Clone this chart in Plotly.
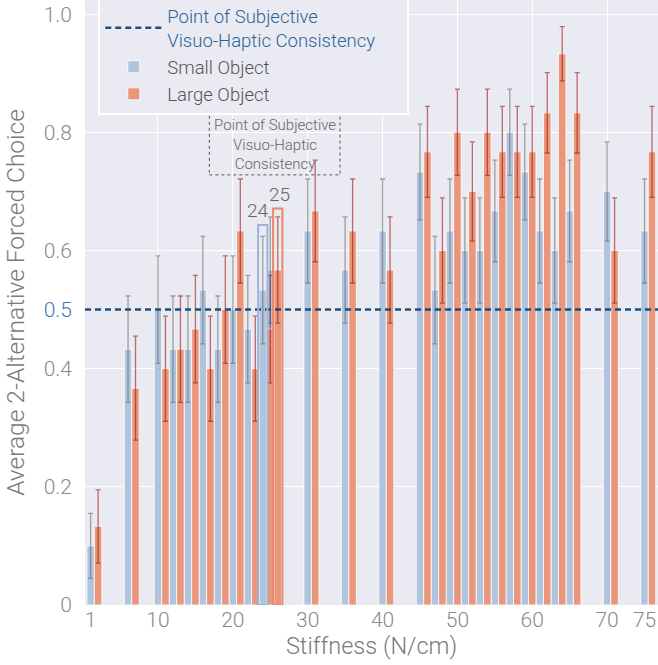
import plotly.graph_objects as go

# ---- data ----
stiffness = [1, 6, 10, 12, 14, 16, 18, 20, 22, 24, 25, 30, 35, 40, 45, 47, 49,
             51, 53, 55, 57, 59, 61, 63, 65, 70, 75]
small_obj = [0.100, 0.433, 0.500, 0.433, 0.433, 0.533, 0.433, 0.500, 0.467, 0.533,
             0.567, 0.633, 0.567, 0.633, 0.733, 0.533, 0.633, 0.600, 0.600, 0.667,
             0.800, 0.733, 0.633, 0.600, 0.667, 0.700, 0.633]
large_obj = [0.133, 0.367, 0.400, 0.433, 0.467, 0.400, 0.500, 0.633, 0.400, 0.467,
             0.567, 0.667, 0.633, 0.567, 0.767, 0.600, 0.800, 0.700, 0.800, 0.767,
             0.767, 0.767, 0.833, 0.933, 0.833, 0.600, 0.767]
small_err = [0.055, 0.090, 0.091, 0.090, 0.090, 0.091, 0.090, 0.091, 0.091, 0.091,
             0.090, 0.088, 0.090, 0.088, 0.081, 0.091, 0.088, 0.089, 0.089, 0.086,
             0.073, 0.081, 0.088, 0.089, 0.086, 0.084, 0.088]
large_err = [0.062, 0.088, 0.089, 0.090, 0.091, 0.089, 0.091, 0.088, 0.089, 0.091,
             0.090, 0.086, 0.088, 0.090, 0.077, 0.089, 0.073, 0.084, 0.073, 0.077,
             0.077, 0.077, 0.068, 0.046, 0.068, 0.089, 0.077]
pse_level = 0.5
pse_small = 24
pse_large = 25
x_ticks = [1, 10, 20, 30, 40, 50, 60, 70, 75]
x_grid = [10, 20, 30, 40, 50, 60, 70]
y_ticks = [0, 0.2, 0.4, 0.6, 0.8, 1.0]
y_ticktext = ["0", "0.2", "0.4", "0.6", "0.8", "1.0"]

FONT = "Roboto, 'Liberation Sans', sans-serif"
BLUE = "#B0C4DE"
ORANGE = "#E9967A"
BG = "#EAEAF2"
PAD = "\u00a0" * 6  # widens the legend box to match the reference

fig = go.Figure()

fig.add_trace(go.Bar(
    x=stiffness, y=small_obj, width=1.0, offset=-0.5,
    name="Small Object", legendrank=2,
    marker=dict(color=BLUE, line=dict(color="rgba(255,255,255,0.8)", width=1)),
    error_y=dict(type="data", array=small_err, color="rgba(105,105,105,0.6)",
                 thickness=1.3, width=2.5),
))
fig.add_trace(go.Bar(
    x=stiffness, y=large_obj, width=1.0, offset=0.5,
    name="Large Object", legendrank=3,
    marker=dict(color=ORANGE, line=dict(color="rgba(255,255,255,0.8)", width=1)),
    error_y=dict(type="data", array=large_err, color="rgba(150,20,20,0.6)",
                 thickness=1.3, width=2.5),
))
fig.add_trace(go.Scatter(
    x=[0.25, 76.8], y=[pse_level, pse_level], mode="lines", yaxis="y2",
    name=('<span style="color:#2a6496">Point of Subjective<br>'
          'Visuo-Haptic Consistency' + PAD + '</span>'),
    legendrank=1,
    line=dict(color="#1f4e79", width=2.5, dash="6px,4px"),
))

# highlight boxes around the PSE bars
fig.add_shape(type="rect", x0=pse_small - 0.62, x1=pse_small + 0.62, y0=0, y1=0.643,
              line=dict(color="#9db3d8", width=2), fillcolor="rgba(0,0,0,0)")
fig.add_shape(type="rect", x0=pse_large + 0.38, x1=pse_large + 1.62, y0=0, y1=0.671,
              line=dict(color="#e8896a", width=2), fillcolor="rgba(0,0,0,0)")
fig.add_annotation(x=23.4, y=0.667, text=str(pse_small), showarrow=False,
                   font=dict(family=FONT, size=19, color="#666"))
fig.add_annotation(x=26.26, y=0.695, text=str(pse_large), showarrow=False,
                   font=dict(family=FONT, size=19, color="#666"))

# dotted annotation box
fig.add_shape(type="rect", x0=16.86, x1=34.32, y0=0.728, y1=0.831,
              line=dict(color="#555", width=1, dash="dot"), fillcolor="rgba(0,0,0,0)")
fig.add_annotation(x=25.6, y=0.7795,
                   text="Point of Subjective<br>Visuo-Haptic<br>Consistency",
                   showarrow=False, font=dict(family=FONT, size=15, color="#666"))

fig.update_layout(
    width=658, height=665,
    margin=dict(l=85, r=0, t=0, b=60, autoexpand=False),
    paper_bgcolor="white", plot_bgcolor=BG,
    barmode="overlay",
    font=dict(family=FONT, weight=300, color="#555"),
    xaxis=dict(
        range=[0.25, 76.8], tickmode="array", tickvals=x_ticks,
        showgrid=False, zeroline=False, ticks="", automargin=False,
        minor=dict(tickmode="array", tickvals=x_grid, showgrid=True,
                   gridcolor="white", gridwidth=1, ticks=""),
        tickfont=dict(family=FONT, size=21, color="#8a8a8a", weight=300),
        title=dict(text="Stiffness (N/cm)", standoff=4,
                   font=dict(family=FONT, size=23.5, color="#7a7a7a", weight=300)),
    ),
    yaxis=dict(
        range=[0, 1.024], tickmode="array", tickvals=y_ticks, ticktext=y_ticktext,
        showgrid=True, gridcolor="white", gridwidth=1, zeroline=False, ticks="",
        ticklabelstandoff=12, automargin=False,
        tickfont=dict(family=FONT, size=21, color="#8a8a8a", weight=300),
        title=dict(text="Average 2-Alternative Forced Choice", standoff=12,
                   font=dict(family=FONT, size=24.5, color="#7a7a7a", weight=300)),
    ),
    yaxis2=dict(
        overlaying="y", side="left", anchor="x", automargin=False,
        range=[0, 1.024], tickmode="array", tickvals=[pse_level], ticktext=["0.5"],
        showgrid=False, zeroline=False, ticks="", ticklabelstandoff=12,
        tickfont=dict(family=FONT, size=21, color="#3d7ab3", weight=300),
    ),
    legend=dict(
        x=0.0232, y=1.008, xanchor="left", yanchor="top",
        bgcolor=BG, bordercolor="white", borderwidth=2,
        font=dict(family=FONT, size=18.5, color="#555", weight=300),
        itemwidth=57, tracegroupgap=2,
    ),
    showlegend=True,
)

fig.write_html(
    "out.html",
    config={"displayModeBar": False},
    post_script="document.body.style.margin='0';document.body.style.padding='0';",
)
